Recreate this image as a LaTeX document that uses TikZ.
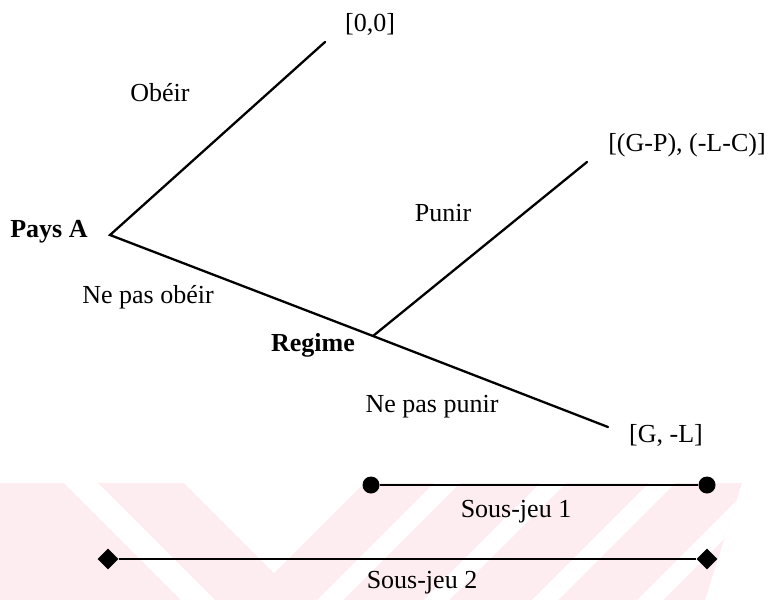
\documentclass[tikz,border=0pt]{standalone}
\usepackage{fontspec}
\setmainfont{Liberation Serif}
\usepackage{tikz}
\usetikzlibrary{shapes.geometric}
\definecolor{wmpink}{RGB}{253,236,240}
\tikzset{
  branche/.style={line width=2.3pt, line cap=round},
  sousjeu/.style={line width=1.6pt},
  etiq/.style={font=\fontsize{26}{30}\selectfont, inner sep=0pt},
  joueur/.style={etiq, font=\fontsize{26}{30}\selectfont\bfseries},
  rond/.style={circle, fill, inner sep=0pt, minimum size=17pt},
  losange/.style={diamond, fill, inner sep=0pt, minimum size=21pt}
}
\begin{document}
\begin{tikzpicture}[x=1pt, y=-1pt]
            \useasboundingbox (0,0) rectangle (769,600);
            % fond
            \begin{scope}
              \clip (0,483) -- (742,483) -- (705,600) -- (0,600) -- cycle;
              \fill[wmpink] (0,483) rectangle (769,600);
              \fill[white] (64,483) -- (98,483) -- (215,600) -- (181,600) -- cycle;
              \fill[white] (184,483) -- (364,483) -- (274,573) -- cycle;
              \foreach \xb in {330,436,545,650}
                \fill[white] (\xb-13,600) -- (\xb+13,600) -- (\xb+130,483) -- (\xb+104,483) -- cycle;
            \end{scope}
            % arbre
            \coordinate (pays) at (110,235);
            \coordinate (obeir) at (325,42);
            \coordinate (regime) at (373,336);
            \coordinate (punir) at (587,162);
            \coordinate (nonpunir) at (608,427);
            \draw[branche] (obeir) -- (pays) -- (regime) -- (nonpunir);
            \draw[branche] (regime) -- (punir);
            \node[joueur] (lpays) at (49,232) {Pays A};
            \node[joueur] (lregime) at (313,345) {Regime};
            \node[etiq] (lobeir) at (160,93) {Obéir};
            \node[etiq] (lnonobeir) at (148,297) {Ne pas obéir};
            \node[etiq] (lpunir) at (443,213) {Punir};
            \node[etiq] (lnonpunir) at (432,407) {Ne pas punir};
            \node[etiq] (g1) at (370,24) {[0,0]};
            \node[etiq] (g2) at (687,145) {[(G-P), (-L-C)]};
            \node[etiq] (g3) at (666,435) {[G, -L]};
            % sous-jeux
            \node[rond] (s1a) at (371,485) {};
            \node[rond] (s1b) at (707,485) {};
            \draw[sousjeu] (s1a) -- (s1b);
            \node[etiq] (ls1) at (516,512) {Sous-jeu 1};
            \node[losange] (s2a) at (108,559) {};
            \node[losange] (s2b) at (707,559) {};
            \draw[sousjeu] (s2a) -- (s2b);
            \node[etiq] (ls2) at (422,583) {Sous-jeu 2};
        \end{tikzpicture}
\end{document}
